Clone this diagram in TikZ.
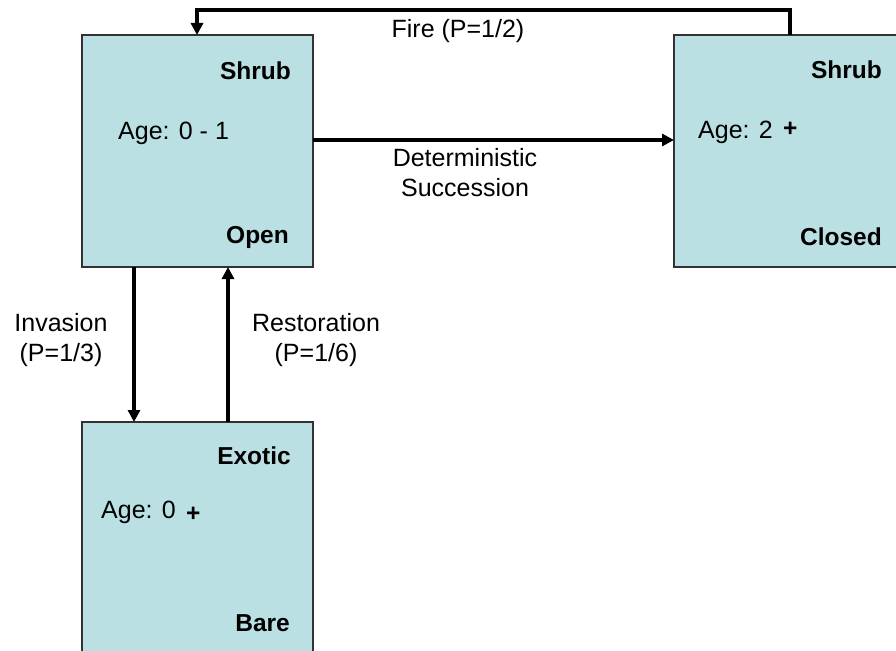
\documentclass[tikz,border=0pt]{standalone}
\usepackage{fontspec}
\setmainfont{Liberation Sans}
\usetikzlibrary{arrows.meta}
\definecolor{boxfill}{RGB}{187,224,227}
\definecolor{boxline}{RGB}{50,50,50}
\begin{document}
\begin{tikzpicture}[x=1pt,y=-1pt,
  statebox/.style={draw=boxline,line width=1.3pt,fill=boxfill},
  lbl/.style={font=\fontsize{25}{30}\selectfont,inner sep=0pt,align=center},
  ttl/.style={font=\fontsize{24.5}{30}\selectfont\bfseries,inner sep=0pt},
  conn/.style={line width=3.8pt,-{Triangle[length=12pt,width=12pt]}}]
\useasboundingbox (0,0) rectangle (896,650);
% boxes
\draw[statebox] (82,35) rectangle (313,267);
\draw[statebox] (674,35) rectangle (905,267);
\draw[statebox] (82,422) rectangle (313,660);
% texts box 1
\node[ttl,anchor=east] (a1) at (291,71) {Shrub};
\node[lbl,anchor=west] (a2) at (118,133) {Age: 0 - 1};
\node[ttl,anchor=east] (a3) at (289,237) {Open};
% box 2
\node[ttl,anchor=east] (b1) at (882,70) {Shrub};
\node[lbl,anchor=west] (b2) at (698,132) {Age: 2};
\node[ttl,anchor=west] (b2p) at (783,129) {+};
\node[ttl,anchor=east] (b3) at (882,237) {Closed};
% box 3
\node[ttl,anchor=east] (c1) at (291,456) {Exotic};
\node[lbl,anchor=west] (c2) at (101,512) {Age: 0};
\node[ttl,anchor=west] (c2p) at (186,514) {+};
\node[ttl,anchor=east] (c3) at (290,623) {Bare};
% connector anchor points
\coordinate (bTop) at (790,35);
\coordinate (aTop) at (197,35);
\coordinate (aRight) at (313,140);
\coordinate (bLeft) at (674,140);
\coordinate (aBotL) at (134,267);
\coordinate (cTopL) at (134,422);
\coordinate (cTopR) at (228,422);
\coordinate (aBotR) at (228,267);
\draw[conn] (bTop) |- (197,10) -- (aTop);
\draw[conn] (aRight) -- (bLeft);
\draw[conn] (aBotL) -- (cTopL);
\draw[conn] (cTopR) -- (aBotR);
% labels
\node[lbl] (fire) at (458,31) {Fire (P=1/2)};
\node[lbl] (det) at (465,173) {Deterministic\\Succession};
\node[lbl] (inv) at (61,340) {Invasion\\(P=1/3)};
\node[lbl] (res) at (316,340) {Restoration\\(P=1/6)};
\end{tikzpicture}
\end{document}
